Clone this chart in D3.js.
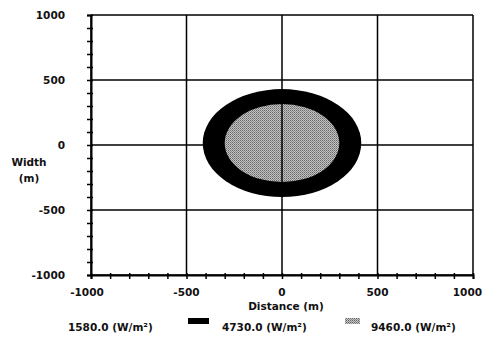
<!DOCTYPE html>
<html>
<head>
<meta charset="utf-8">
<script src="https://cdn.jsdelivr.net/npm/d3@7"></script>
<style>
  body { margin: 0; background: #fff; }
  text { font-family: "DejaVu Sans", sans-serif; font-weight: bold; font-size: 10.5px; fill: #111; }
</style>
</head>
<body>
<svg width="486" height="339"></svg>
<script>
  // contour zones (radius in m, centre in m)
  const zones = ["1580.0", "4730.0", "9460.0"];
  const zoneRadius = [null, 415, 300];
  const zoneCenterX = [0, 0, 0];
  const zoneCenterY = [15, 15, 15];
  const majorTicks = [-1000, -500, 0, 500, 1000];
  const minorTicks = d3.range(-1000, 1001, 100);

  const svg = d3.select("svg");

  // plot box
  const x = d3.scaleLinear().domain([-1000, 1000]).range([91, 473]);
  const y = d3.scaleLinear().domain([-1000, 1000]).range([275, 15]);

  // stipple pattern for inner zone
  const defs = svg.append("defs");
  const pat = defs.append("pattern")
    .attr("id", "stip")
    .attr("width", 2).attr("height", 2)
    .attr("patternUnits", "userSpaceOnUse");
  pat.append("rect").attr("width", 2).attr("height", 2).attr("fill", "#c4c4c4");
  pat.append("rect").attr("x", 0).attr("y", 0).attr("width", 1).attr("height", 1).attr("fill", "#666");
  pat.append("rect").attr("x", 1).attr("y", 1).attr("width", 1).attr("height", 1).attr("fill", "#8a8a8a");

  // grid
  const grid = svg.append("g").attr("stroke", "#000").attr("stroke-width", 1.5);
  grid.selectAll(".gx").data(majorTicks).enter().append("line")
    .attr("x1", d => x(d)).attr("x2", d => x(d))
    .attr("y1", y(-1000)).attr("y2", y(1000));
  grid.selectAll(".gy").data(majorTicks).enter().append("line")
    .attr("y1", d => y(d)).attr("y2", d => y(d))
    .attr("x1", x(-1000)).attr("x2", x(1000));

  // zones (outer first)
  const fills = [null, "#000", "url(#stip)"];
  zones.forEach((z, i) => {
    if (zoneRadius[i] == null) return;
    svg.append("ellipse")
      .attr("cx", x(zoneCenterX[i]))
      .attr("cy", y(zoneCenterY[i]))
      .attr("rx", x(zoneRadius[i]) - x(0))
      .attr("ry", y(0) - y(zoneRadius[i]))
      .attr("fill", fills[i]);
  });
  // centre line through inner zone
  svg.append("line")
    .attr("x1", x(0)).attr("x2", x(0))
    .attr("y1", y(zoneCenterY[2] + zoneRadius[2])).attr("y2", y(zoneCenterY[2] - zoneRadius[2]))
    .attr("stroke", "#000").attr("stroke-width", 1.5);

  // axes (ticks cross the axis line)
  svg.append("g")
    .attr("transform", `translate(0,${y(-1000)})`)
    .call(d3.axisBottom(x).tickValues(minorTicks).tickSize(4).tickFormat(""))
    .call(g => g.select(".domain").attr("stroke-width", 2))
    .call(g => g.selectAll(".tick line").attr("y1", -2).attr("stroke-width", 1.5));
  svg.append("g")
    .attr("transform", `translate(${x(-1000)},0)`)
    .call(d3.axisLeft(y).tickValues(minorTicks).tickSize(4).tickFormat(""))
    .call(g => g.select(".domain").attr("stroke-width", 2))
    .call(g => g.selectAll(".tick line").attr("x1", 2).attr("stroke-width", 1.5));

  // tick labels
  svg.selectAll(".xl").data(majorTicks).enter().append("text")
    .attr("x", (d, i) => i === majorTicks.length - 1 ? 482 : x(d) - (i === 0 ? 4 : 0)).attr("y", 296)
    .attr("text-anchor", (d, i) => i === majorTicks.length - 1 ? "end" : "middle")
    .text(d => d);
  svg.selectAll(".yl").data(majorTicks).enter().append("text")
    .attr("x", 65).attr("y", d => y(d) + 4)
    .attr("text-anchor", "end")
    .text(d => d);

  // axis titles
  svg.append("text").attr("x", x(0) + 4).attr("y", 310).attr("text-anchor", "middle").text("Distance (m)");
  svg.append("text").attr("x", 29).attr("y", 166).attr("text-anchor", "middle").text("Width");
  svg.append("text").attr("x", 29).attr("y", 182).attr("text-anchor", "middle").text("(m)");

  // legend
  const legX = [68, 222, 371];
  const swX = [null, 188, 345];
  zones.forEach((z, i) => {
    if (swX[i] != null) {
      svg.append("rect").attr("x", swX[i]).attr("y", 318).attr("width", i === 1 ? 21 : 15).attr("height", 6)
        .attr("fill", fills[i]);
    }
    svg.append("text").attr("x", legX[i]).attr("y", 331).text(z + " (W/m²)");
  });
</script>
</body>
</html>
